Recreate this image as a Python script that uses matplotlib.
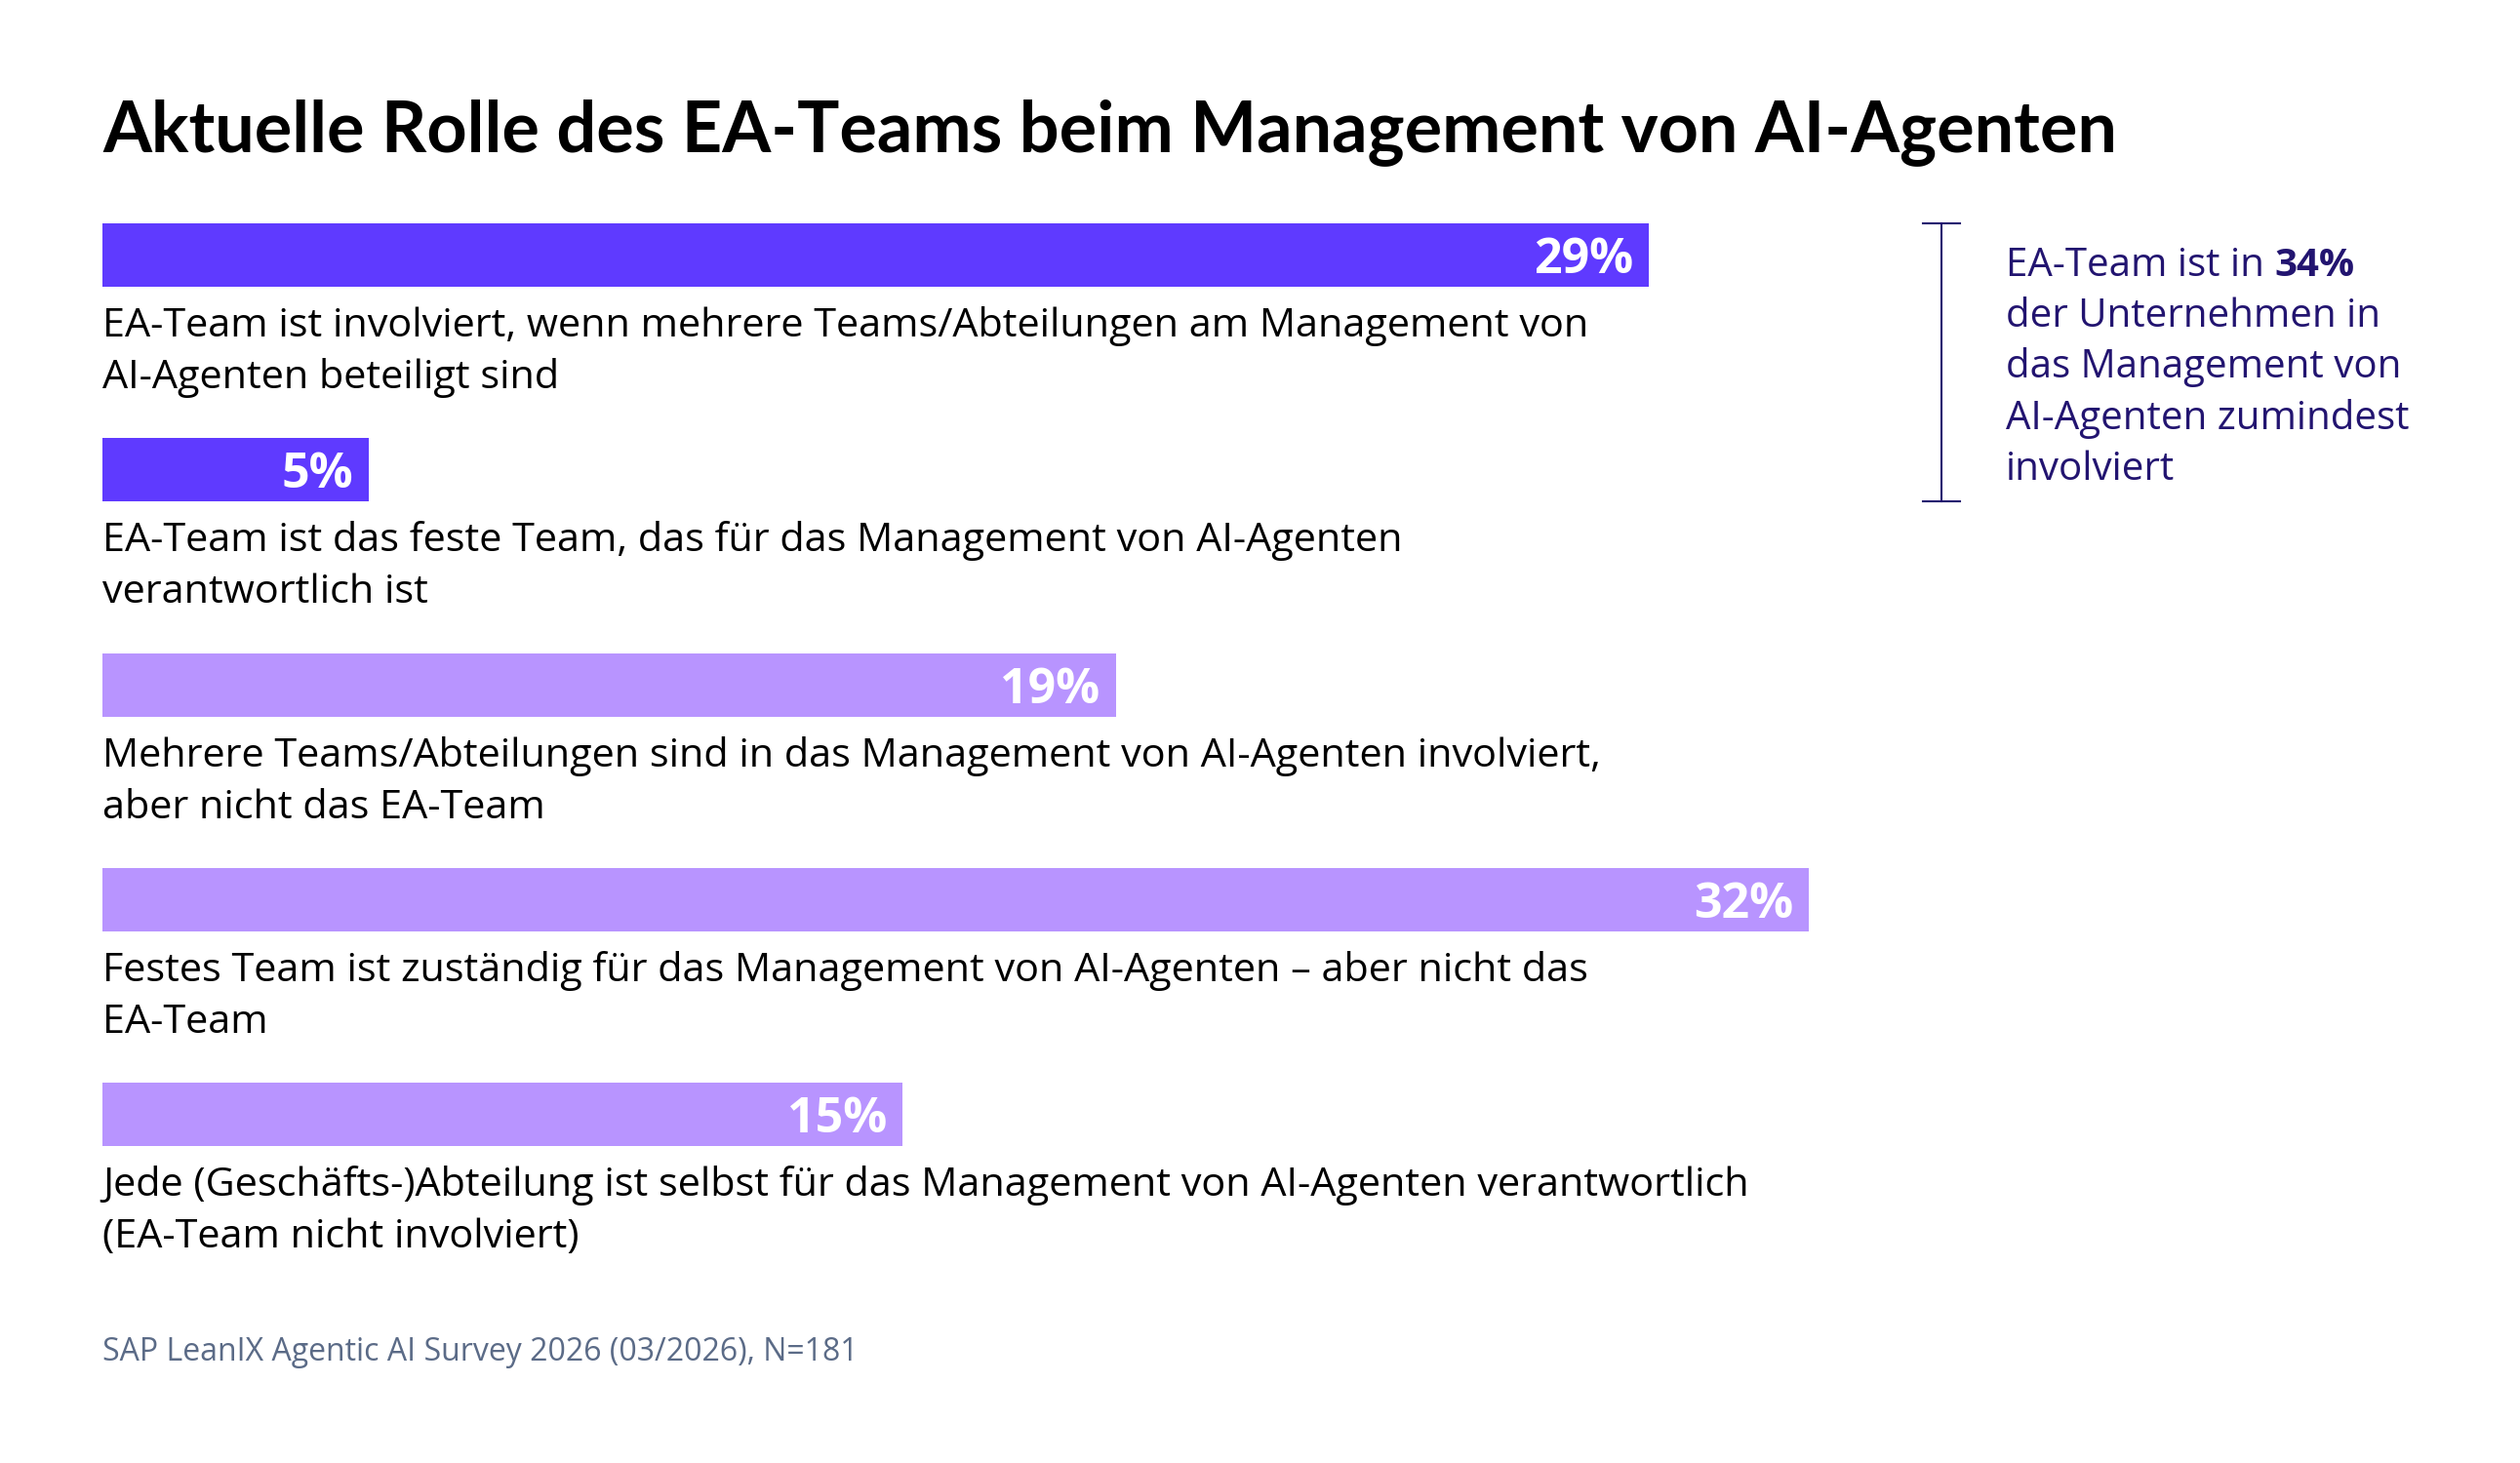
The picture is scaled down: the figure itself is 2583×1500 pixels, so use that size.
import matplotlib.pyplot as plt
from matplotlib.lines import Line2D
import matplotlib.transforms as mtransforms

plt.rcParams['font.family'] = ['Open Sans', 'DejaVu Sans']

# data
categories = [
    "EA-Team ist involviert, wenn mehrere Teams/Abteilungen am Management von\nAI-Agenten beteiligt sind",
    "EA-Team ist das feste Team, das für das Management von AI-Agenten\nverantwortlich ist",
    "Mehrere Teams/Abteilungen sind in das Management von AI-Agenten involviert,\naber nicht das EA-Team",
    "Festes Team ist zuständig für das Management von AI-Agenten – aber nicht das\nEA-Team",
    "Jede (Geschäfts-)Abteilung ist selbst für das Management von AI-Agenten verantwortlich\n(EA-Team nicht involviert)",
]
values = [29, 5, 19, 32, 15]
ea_involved = [True, True, False, False, False]
title = "Aktuelle Rolle des EA-Teams beim Management von AI-Agenten"
note_lines = ["der Unternehmen in", "das Management von", "AI-Agenten zumindest", "involviert"]
note_share = "34%"
source = "SAP LeanIX Agentic AI Survey 2026 (03/2026), N=181"

DARK = '#5f3aff'
LIGHT = '#b894ff'
NAVY = '#221470'

W, H = 2583, 1500
fig = plt.figure(figsize=(W / 100, H / 100), dpi=100)

# axes: x=0 at px 105, 54.66 px per percent; rows 220.3 px apart
x0 = 105
ppu = 54.66
row = 220.3
ax = fig.add_axes([x0 / W, (H - (261.5 + 4.5 * row)) / H, 40 * ppu / W, 5 * row / H])
ax.set_xlim(0, 40)
ax.set_ylim(4.5, -0.5)
ax.axis('off')

bh = 65 / row
colors = [DARK if e else LIGHT for e in ea_involved]
ypos = list(range(len(values)))
ax.barh(ypos, values, height=bh, color=colors, edgecolor='none')

for i, (v, lab) in enumerate(zip(values, categories)):
    ax.annotate(f"{v}%", xy=(v, i), xytext=(-16 * 0.72, -18.5 * 0.72),
                textcoords='offset points', ha='right', va='baseline',
                color='white', fontsize=36, fontweight='bold')
    for k, line in enumerate(lab.split('\n')):
        ax.annotate(line, xy=(0, i + bh / 2), xytext=(0, -(51 + 53 * k) * 0.72),
                    textcoords='offset points', ha='left', va='baseline',
                    color='black', fontsize=29.8, annotation_clip=False)

# title and source
fig.text(x0 / W, 1 - 155 / H, title, ha='left', va='baseline',
         fontsize=51.8, fontweight='bold', color='black', family=['Lato', 'DejaVu Sans'])
fig.text(x0 / W, 1 - 1395 / H, source, ha='left', va='baseline',
         fontsize=23, color='#5b6b87')

# bracket spanning the EA-involved rows
tr = mtransforms.blended_transform_factory(fig.transFigure, ax.transData)
yt, yb = 0 - bh / 2, 1 + bh / 2
bx, cap = 1990 / W, 19 / W
fig.add_artist(Line2D([bx, bx], [yt, yb], transform=tr, color=NAVY, lw=1.5))
fig.add_artist(Line2D([bx - cap, bx + cap], [yt, yt], transform=tr, color=NAVY, lw=1.5))
fig.add_artist(Line2D([bx - cap, bx + cap], [yb, yb], transform=tr, color=NAVY, lw=1.5))

tx = 2056 / W
t1 = fig.text(tx, 1 - 283 / H, "EA-Team ist in ", ha='left', va='baseline',
              fontsize=29, color=NAVY)
fig.canvas.draw()
bb = t1.get_window_extent()
fig.text(bb.x1 / W, 1 - 283 / H, note_share, ha='left', va='baseline',
         fontsize=29, fontweight='bold', color=NAVY)
for k, line in enumerate(note_lines):
    fig.text(tx, 1 - (335 + 52.3 * k) / H, line, ha='left', va='baseline',
             fontsize=29, color=NAVY)

fig.savefig('out.png', dpi=100, facecolor='white')
